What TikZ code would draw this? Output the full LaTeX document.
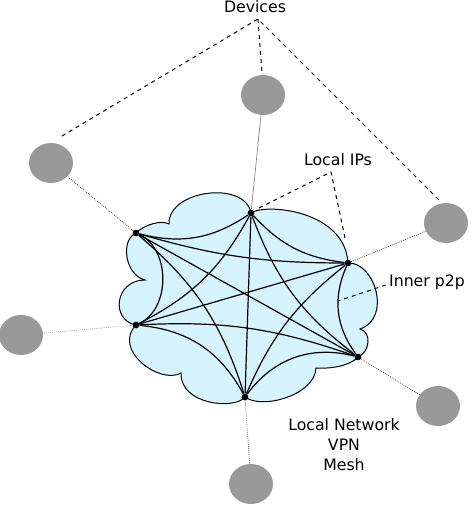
\documentclass[tikz,border=0pt]{standalone}
\usepackage{fontspec}
\setmainfont{DejaVu Sans}
\usetikzlibrary{calc}
\usetikzlibrary{shapes.geometric}
\definecolor{cloudblue}{RGB}{213,244,255}
\definecolor{devgray}{RGB}{153,153,153}

\begin{document}
\begin{tikzpicture}[x=0.75pt,y=-0.75pt,
  peer/.style={circle,fill=black,inner sep=0pt,minimum size=5pt},
  device/.style={ellipse,fill=devgray,inner sep=0pt,minimum width=33pt,minimum height=30pt},
  mesh/.style={line width=0.9pt},
  uplink/.style={densely dotted,line width=0.5pt},
  callout/.style={dashed,line width=0.75pt},
  note/.style={font=\fontsize{11.8}{15}\selectfont,inner sep=0pt,align=center}]
\useasboundingbox (0,0) rectangle (472,506);
\draw[fill=cloudblue,line width=0.75pt] (136,233) .. controls (145,224) and (162,220) .. (169,224)
  .. controls (168,190) and (245,180) .. (251,213)
  .. controls (265,203) and (345,210) .. (348,263)
  .. controls (375,262) and (392,318) .. (360,329)
  .. controls (372,332) and (370,352) .. (358,357)
  .. controls (350,366) and (330,369) .. (316,368)
  .. controls (315,395) and (262,410) .. (245,397)
  .. controls (235,410) and (180,405) .. (181,373)
  .. controls (160,385) and (112,350) .. (136,325)
  .. controls (110,320) and (115,280) .. (145,280)
  .. controls (125,275) and (120,240) .. (136,233) -- cycle;
\node[peer] (A) at (136,233) {};
\node[peer] (B) at (251,213) {};
\node[peer] (C) at (348,263) {};
\node[peer] (D) at (358,357) {};
\node[peer] (E) at (245,397) {};
\node[peer] (F) at (136,325) {};
\draw[mesh] (A) to[bend right=24] (B);
\draw[mesh] (B) to[bend right=20] (C);
\draw[mesh] (C) to[bend right=30] (D);
\draw[mesh] (D) to[bend right=34] (E);
\draw[mesh] (E) to[bend right=28] (F);
\draw[mesh] (F) to[bend right=65] (A);
\draw[mesh] (A) to[bend right=8] (C);
\draw[mesh] (B) to[bend right=16] (D);
\draw[mesh] (C) to[bend right=14] (E);
\draw[mesh] (D) to[bend right=11] (F);
\draw[mesh] (E) to[bend right=16] (A);
\draw[mesh] (F) to[bend right=17] (B);
\draw[mesh] (A) -- (D);
\draw[mesh] (B) -- (E);
\draw[mesh] (C) -- (F);
\node[device] (dev1) at (263,95) {};
\node[device] (dev2) at (51,163) {};
\node[device] (dev3) at (446,223) {};
\node[device] (dev4) at (21,335) {};
\node[device] (dev5) at (438,406) {};
\node[device] (dev6) at (251,484) {};
\draw[gray,line width=0.5pt] (B) -- (dev1);
\draw[uplink] (A) -- (dev2);
\draw[uplink] (C) -- (dev3);
\draw[uplink,gray] (F) -- (dev4);
\draw[uplink] (D) -- (dev5);
\draw[uplink] (E) -- (dev6);
\node[note] (devices) at (255,7) {Devices};
\coordinate (devtip) at (258,19);
\coordinate (dev2end) at (62,136);
\coordinate (dev1end) at (262,73);
\coordinate (dev3end) at (440,201);
\draw[callout] (dev2end) -- (devtip) -- (dev3end);
\draw[callout] (devtip) -- (dev1end);
\node[note] (localips) at (338,160) {Local IPs};
\coordinate (ipstip) at (331,172);
\coordinate (ipsB) at (259,208);
\coordinate (ipsC) at (345,238);
\draw[callout] (ipsB) -- (ipstip) -- (ipsC);
\node[note] (innerp2p) at (427,282) {Inner p2p};
\coordinate (p2pend) at (338,301);
\draw[callout] (innerp2p.west) ++(-3,3) -- (p2pend);
\node[note] (network) at (344,445) {Local Network\\VPN\\Mesh};
\end{tikzpicture}
\end{document}
